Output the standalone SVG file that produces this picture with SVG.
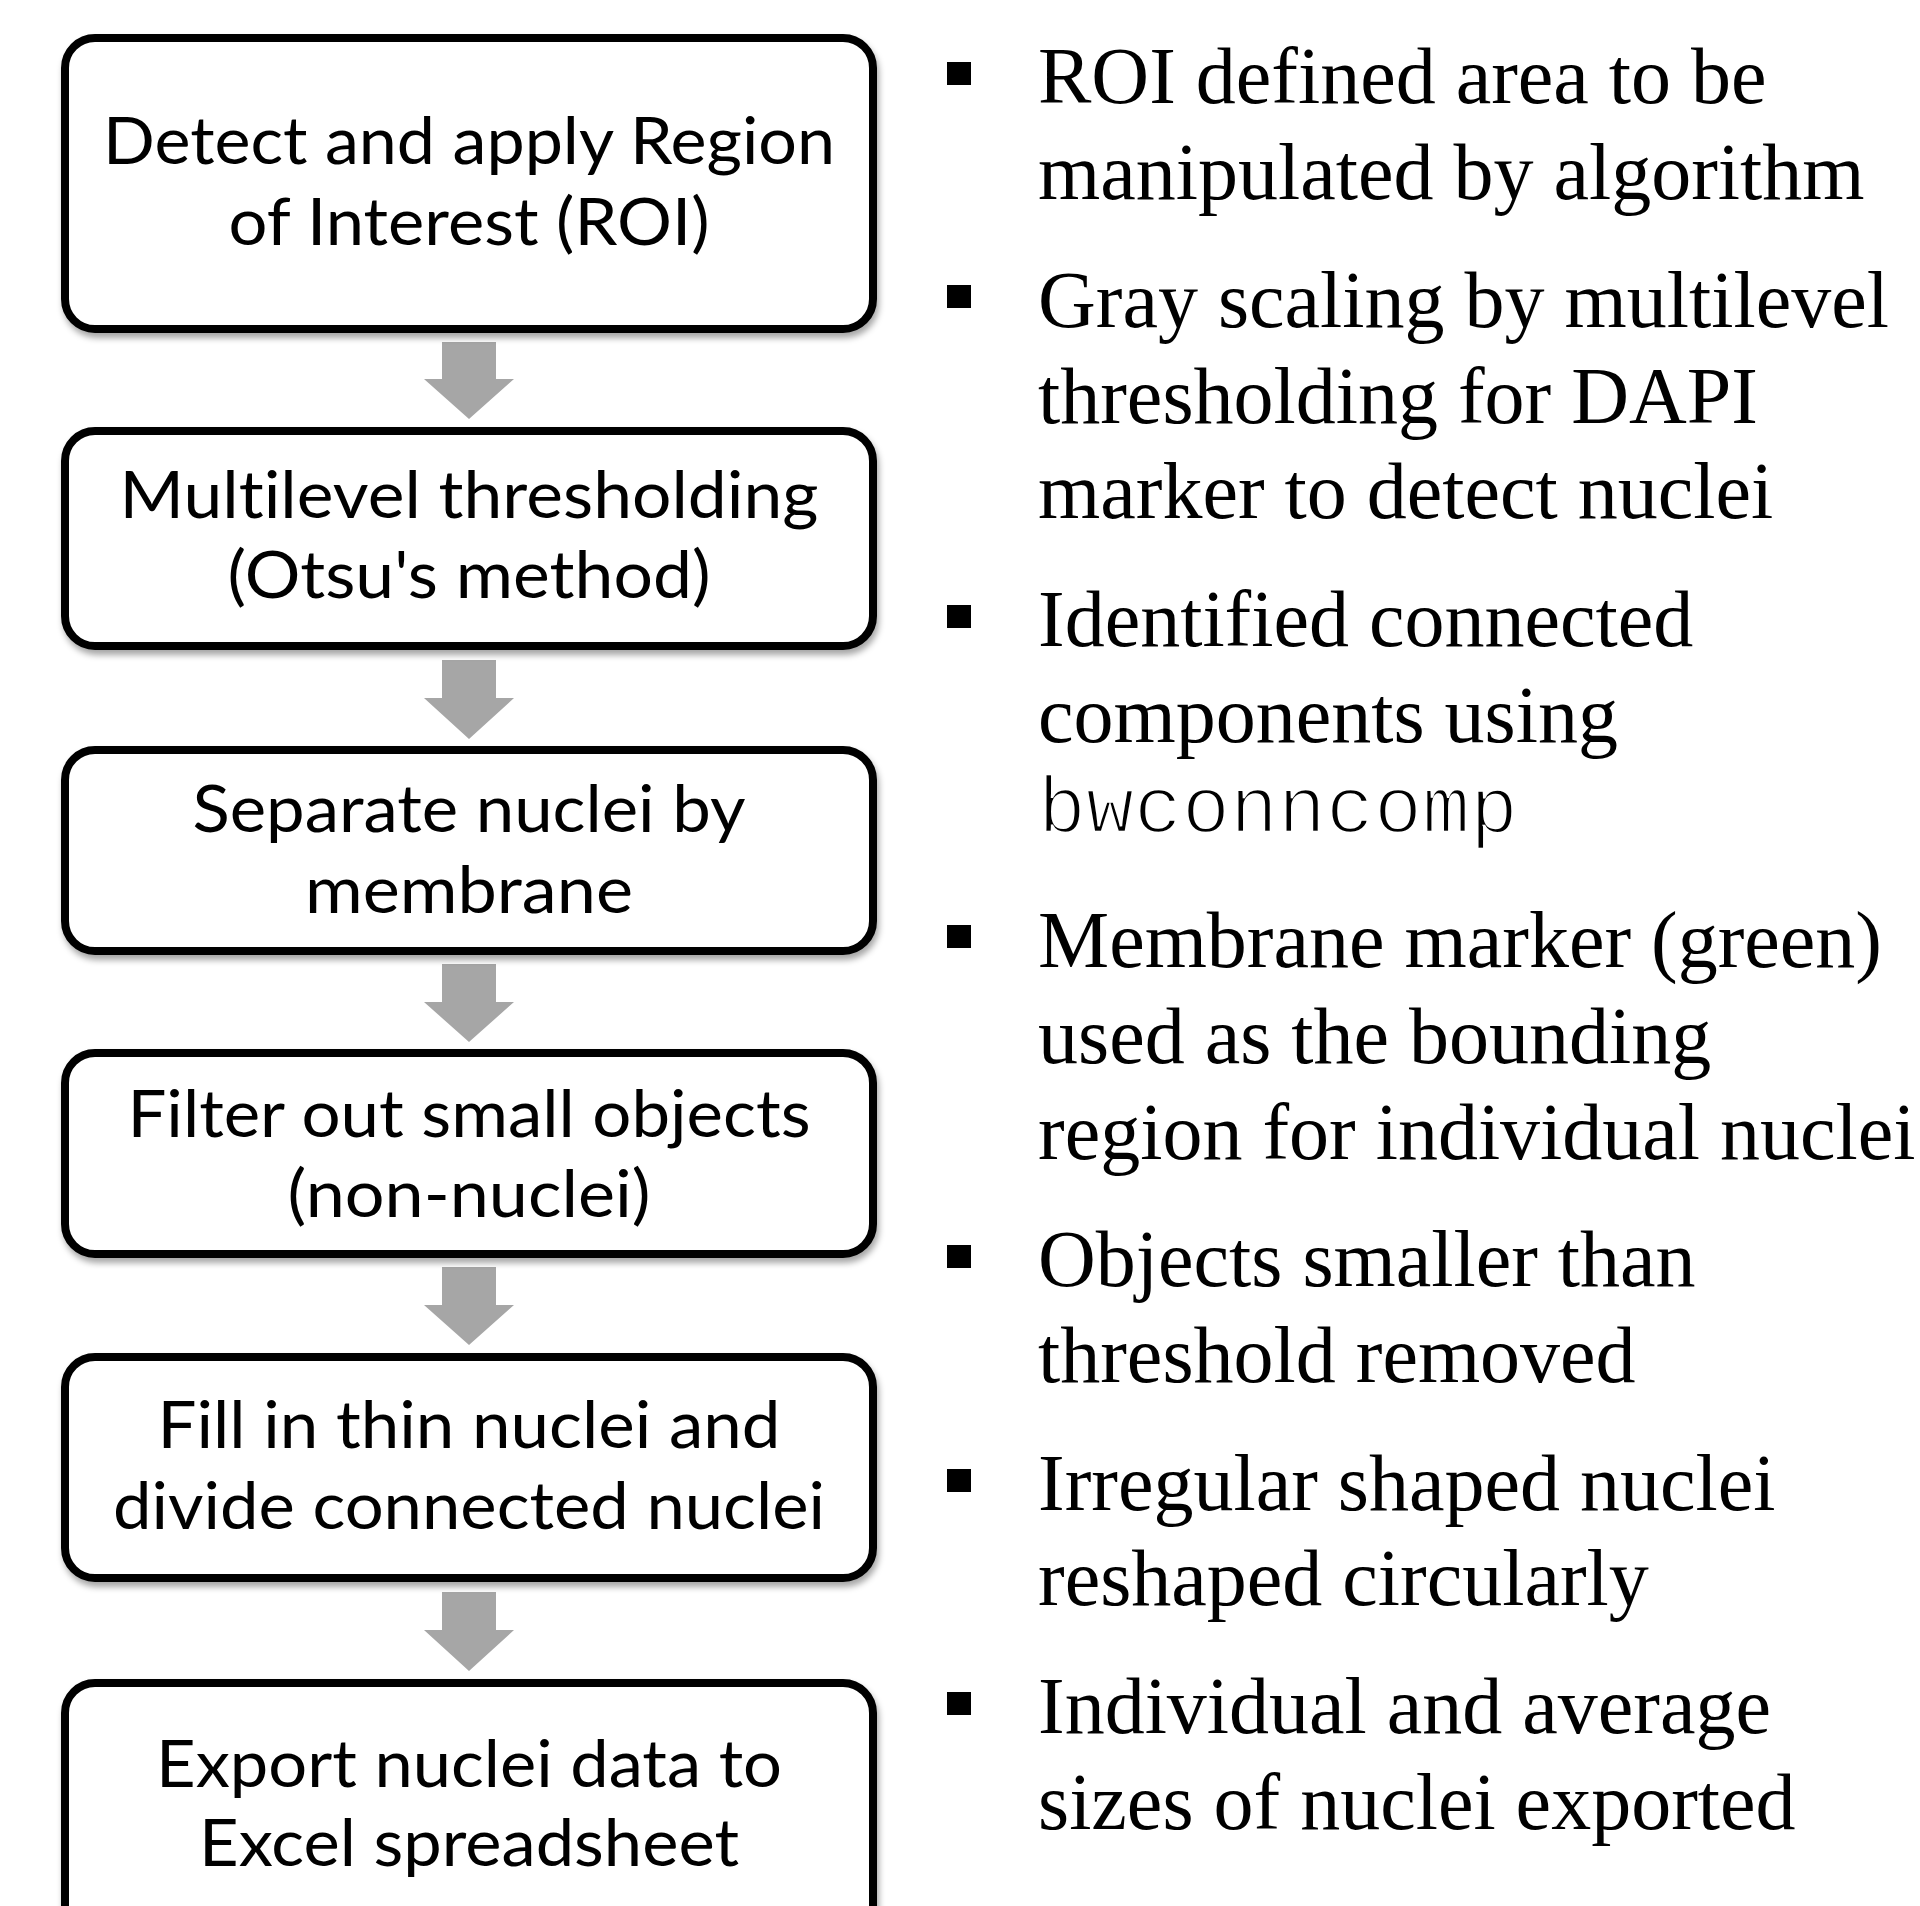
<svg xmlns="http://www.w3.org/2000/svg" width="1920" height="1906" viewBox="0 0 1920 1906">
<defs>
<filter id="sh" x="-5%" y="-5%" width="110%" height="115%">
<feDropShadow dx="2" dy="5" stdDeviation="3" flood-color="#000" flood-opacity="0.35"/>
</filter>
<style>
.box{fill:#fff;stroke:#000;stroke-width:8;filter:url(#sh)}
.bt{font-family:Lato,"Open Sans",sans-serif;font-size:66px;fill:#000;text-anchor:middle;font-variant-ligatures:none}
.rt{font-family:"Liberation Serif","Times New Roman",serif;font-size:80px;fill:#000}
.mono{font-family:"Liberation Mono","Courier New",monospace;font-size:80px;fill:#000;stroke:#fff;stroke-width:2.5px;paint-order:normal}
.arr{fill:#a6a6a6}
.bul{fill:#000}
</style>
</defs>
<rect width="1920" height="1906" fill="#fff"/>
<g id="connectors">
<path class="arr" d="M442,342 H496 V379 H514 L469,419 L424,379 H442 Z"/>
<path class="arr" d="M442,660 H496 V698 H514 L469,739 L424,698 H442 Z"/>
<path class="arr" d="M442,964 H496 V1002 H514 L469,1042 L424,1002 H442 Z"/>
<path class="arr" d="M442,1267 H496 V1305 H514 L469,1345 L424,1305 H442 Z"/>
<path class="arr" d="M442,1592 H496 V1630 H514 L469,1671 L424,1630 H442 Z"/>
</g>
<g id="node1">
<rect class="box" x="65" y="38" width="808" height="291" rx="30"/>
<text class="bt" x="469" y="164" textLength="732" lengthAdjust="spacingAndGlyphs">Detect and apply Region</text>
<text class="bt" x="469" y="245" textLength="481" lengthAdjust="spacingAndGlyphs">of Interest (ROI)</text>
</g>
<g id="node2">
<rect class="box" x="65" y="431" width="808" height="215" rx="30"/>
<text class="bt" x="469" y="518" textLength="699" lengthAdjust="spacingAndGlyphs">Multilevel thresholding</text>
<text class="bt" x="469" y="598" textLength="483" lengthAdjust="spacingAndGlyphs">(Otsu's method)</text>
</g>
<g id="node3">
<rect class="box" x="65" y="750" width="808" height="201" rx="30"/>
<text class="bt" x="469" y="832" textLength="553" lengthAdjust="spacingAndGlyphs">Separate nuclei by</text>
<text class="bt" x="469" y="913" textLength="328" lengthAdjust="spacingAndGlyphs">membrane</text>
</g>
<g id="node4">
<rect class="box" x="65" y="1053" width="808" height="201" rx="30"/>
<text class="bt" x="469" y="1137" textLength="683" lengthAdjust="spacingAndGlyphs">Filter out small objects</text>
<text class="bt" x="469" y="1217" textLength="363" lengthAdjust="spacingAndGlyphs">(non-nuclei)</text>
</g>
<g id="node5">
<rect class="box" x="65" y="1357" width="808" height="221" rx="30"/>
<text class="bt" x="469" y="1448" textLength="623" lengthAdjust="spacingAndGlyphs">Fill in thin nuclei and</text>
<text class="bt" x="469" y="1529" textLength="712" lengthAdjust="spacingAndGlyphs">divide connected nuclei</text>
</g>
<g id="node6">
<rect class="box" x="65" y="1683" width="808" height="300" rx="30"/>
<text class="bt" x="469" y="1787" textLength="626" lengthAdjust="spacingAndGlyphs">Export nuclei data to</text>
<text class="bt" x="469" y="1866" textLength="540" lengthAdjust="spacingAndGlyphs">Excel spreadsheet</text>
</g>
<g id="notes">
<rect class="bul" x="947" y="62" width="24" height="23"/>
<text class="rt" x="1038" y="103">ROI defined area to be</text>
<text class="rt" x="1038" y="199">manipulated by algorithm</text>
<rect class="bul" x="947" y="285" width="24" height="23"/>
<text class="rt" x="1038" y="327">Gray scaling by multilevel</text>
<text class="rt" x="1038" y="423">thresholding for DAPI</text>
<text class="rt" x="1038" y="518">marker to detect nuclei</text>
<rect class="bul" x="947" y="605" width="24" height="23"/>
<text class="rt" x="1038" y="646">Identified connected</text>
<text class="rt" x="1038" y="742">components using</text>
<text class="mono" x="1038" y="832">bwconncomp</text>
<rect class="bul" x="947" y="925" width="24" height="23"/>
<text class="rt" x="1038" y="967">Membrane marker (green)</text>
<text class="rt" x="1038" y="1063">used as the bounding</text>
<text class="rt" x="1038" y="1159">region for individual nuclei</text>
<rect class="bul" x="947" y="1245" width="24" height="23"/>
<text class="rt" x="1038" y="1286">Objects smaller than</text>
<text class="rt" x="1038" y="1382">threshold removed</text>
<rect class="bul" x="947" y="1469" width="24" height="23"/>
<text class="rt" x="1038" y="1510">Irregular shaped nuclei</text>
<text class="rt" x="1038" y="1605">reshaped circularly</text>
<rect class="bul" x="947" y="1692" width="24" height="23"/>
<text class="rt" x="1038" y="1733">Individual and average</text>
<text class="rt" x="1038" y="1829">sizes of nuclei exported</text>
</g>
</svg>
